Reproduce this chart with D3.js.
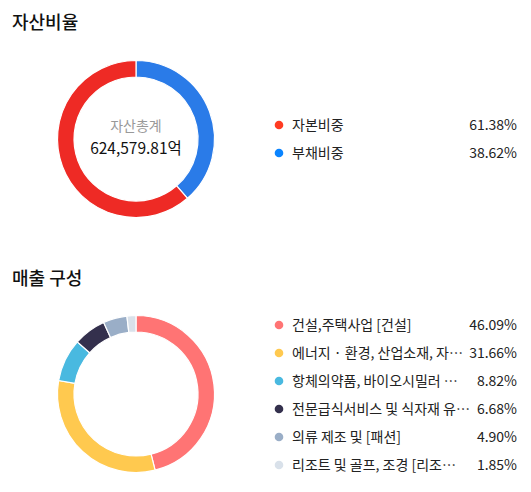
<!DOCTYPE html>
<html><head><meta charset="utf-8">
<script src="https://cdn.jsdelivr.net/npm/d3@7"></script>
<style>
html,body{margin:0;padding:0;background:#fff;}
text{font-family:"Noto Sans CJK KR","Noto Sans",sans-serif;}
</style></head>
<body>
<svg id="c" width="531" height="492"></svg>
<script>
// ---- data ----
const assetTitle = "자산비율";
const assetLabels = ["자본비중", "부채비중"];
const assetValues = [61.38, 38.62];
const assetColors = ["#ee2a25", "#2a7be8"];
const assetDotColors = ["#ff3b22", "#0a84ff"];
const assetPieOrder = [1, 0]; // drawn clockwise from 12 o'clock
const assetCenterLabel = "자산총계";
const assetCenterValue = "624,579.81억";

const salesTitle = "매출 구성";
const salesLabels = ["건설,주택사업 [건설]", "에너지 · 환경, 산업소재, 자…", "항체의약품, 바이오시밀러 …",
  "전문급식서비스 및 식자재 유…", "의류 제조 및 [패션]", "리조트 및 골프, 조경 [리조…"];
const salesValues = [46.09, 31.66, 8.82, 6.68, 4.90, 1.85];
const salesColors = ["#ff7474", "#ffc94f", "#49b9e0", "#34304d", "#9aaec7", "#d9e1ea"];

const svg = d3.select("#c");

function donut(cx, cy, values, colors, order) {
  const pie = d3.pie().sort(null).value(i => values[i]);
  const arc = d3.arc().innerRadius(62).outerRadius(78.5);
  svg.append("g").attr("transform", `translate(${cx},${cy})`)
    .selectAll("path").data(pie(order)).join("path")
    .attr("d", arc).attr("fill", d => colors[d.data])
    .attr("stroke", "#fff").attr("stroke-width", 1.2);
}

function legend(y0, labels, values, colors) {
  const y = d3.scaleLinear().domain([0, 1]).range([y0, y0 + 28]);
  const g = svg.append("g");
  labels.forEach((lab, i) => {
    g.append("circle").attr("cx", 279).attr("cy", y(i)).attr("r", 4.3).attr("fill", colors[i]);
    g.append("text").attr("x", 292).attr("y", y(i)).attr("dy", "0.35em")
      .attr("font-size", 14).attr("fill", "#222").text(lab);
    g.append("text").attr("x", 517).attr("y", y(i)).attr("dy", "0.35em").attr("text-anchor", "end")
      .attr("font-size", 14).attr("fill", "#222").text(values[i].toFixed(2) + "%");
  });
}

// titles
svg.append("text").attr("x", 12).attr("y", 29).attr("font-size", 18).attr("font-weight", 500)
  .attr("fill", "#111").text(assetTitle);
svg.append("text").attr("x", 12).attr("y", 285).attr("font-size", 18).attr("font-weight", 500)
  .attr("fill", "#111").text(salesTitle);

// asset donut
donut(136, 139, assetValues, assetColors, assetPieOrder);
svg.append("text").attr("x", 136).attr("y", 131).attr("text-anchor", "middle")
  .attr("font-size", 14).attr("fill", "#999").text(assetCenterLabel);
svg.append("text").attr("x", 136).attr("y", 154).attr("text-anchor", "middle")
  .attr("font-size", 15.5).attr("fill", "#111").text(assetCenterValue);
legend(125, assetLabels, assetValues, assetDotColors);

// sales donut
donut(136, 394, salesValues, salesColors, d3.range(salesValues.length));
legend(325, salesLabels, salesValues, salesColors);
</script>
</body></html>
